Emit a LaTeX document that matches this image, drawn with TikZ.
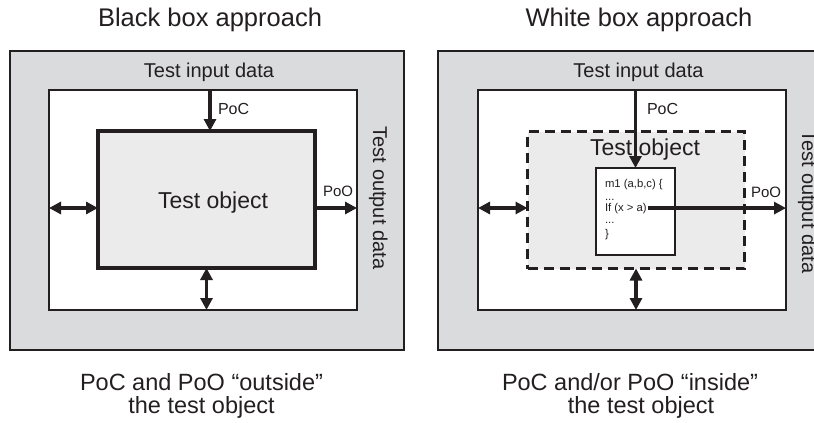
\documentclass[tikz,border=0pt]{standalone}
\usepackage{fontspec}
\setmainfont{Liberation Sans}
\usetikzlibrary{arrows.meta}
\definecolor{ink}{HTML}{231F20}
\definecolor{outergrey}{HTML}{DADBDC}
\definecolor{objgrey}{HTML}{EBEBEB}
\newcommand{\fsz}[1]{\fontsize{#1}{#1}\selectfont}
\tikzset{
  box/.style={rectangle, inner sep=0pt, outer sep=0pt, draw=ink},
  lbl/.style={inner sep=0pt, outer sep=0pt, text=ink},
  arr/.style={draw=ink, line width=3.2pt, -{Triangle[length=12pt,width=12pt]}},
  darr/.style={draw=ink, line width=3.2pt, {Triangle[length=12pt,width=12pt]}-{Triangle[length=12pt,width=12pt]}},
  codeline/.style={lbl, anchor=base west, font=\fsz{11.3}},
}
\begin{document}
\begin{tikzpicture}[x=1pt,y=-1pt]
\clip (0,0) rectangle (814,423);
\fill[white] (0,0) rectangle (814,423);

% ---------- Left panel: black box ----------
\node[lbl, anchor=base, font=\fsz{25.5}] (titleL) at (210,27) {Black box approach};
\node[box, fill=outergrey, line width=1.5pt, minimum width=394pt, minimum height=299pt] (outerL) at (207,200.5) {};
\node[box, fill=white, line width=1.2pt, minimum width=308pt, minimum height=220pt] (innerL) at (203,200) {};
\node[box, fill=objgrey, line width=4pt, minimum width=217pt, minimum height=137pt] (objL) at (206.5,199.5) {};
\node[lbl, anchor=base, font=\fsz{23}] (objtxtL) at (213,208) {Test object};
\node[lbl, anchor=base, font=\fsz{20}] (inL) at (209,77) {Test input data};
\node[lbl, anchor=base, font=\fsz{20}, rotate=-90] (outL) at (373,198) {Test output data};
\node[lbl, anchor=base west, font=\fsz{16}] (pocL) at (218,114) {PoC};
\node[lbl, anchor=base west, font=\fsz{15}] (pooL) at (323,196) {PoO};
\coordinate (pocLx) at (210,90);
\coordinate (aL) at (49,208);
\draw[arr] (pocLx) -- (pocLx |- objL.north);
\draw[arr] (aL -| objL.east) -- (aL -| innerL.east);
\draw[darr] (aL) -- (aL -| objL.west);
\draw[darr] (objL.south) -- (objL.south |- innerL.south);
\node[lbl, anchor=base, font=\fsz{23.5}] (capL1) at (201.5,390) {PoC and PoO “outside”};
\node[lbl, anchor=base, font=\fsz{23.5}] (capL2) at (201.5,413) {the test object};

% ---------- Right panel: white box ----------
\node[lbl, anchor=base, font=\fsz{25.5}] (titleR) at (639,27) {White box approach};
\node[box, fill=outergrey, line width=1.5pt, minimum width=395pt, minimum height=299pt] (outerR) at (635.5,200.5) {};
\node[box, fill=white, line width=1.2pt, minimum width=308pt, minimum height=220pt] (innerR) at (632,200) {};
\node[box, fill=objgrey, line width=3pt, dash pattern=on 10pt off 6pt, minimum width=217pt, minimum height=137pt] (dashR) at (636,200) {};
\node[lbl, anchor=base, font=\fsz{23}] (objtxtR) at (645,155) {Test object};
\node[box, fill=white, line width=1.2pt, minimum width=79pt, minimum height=87pt] (code) at (635.5,211.5) {};
\node[codeline] (l1) at (605,187) {m1 (a,b,c) \{};
\node[codeline] (l2) at (605,200) {...};
\node[codeline] (l3) at (605,211) {If (x > a)};
\node[codeline] (l4) at (605,223.5) {...};
\node[codeline] (l5) at (605,237.5) {\}};
\node[lbl, anchor=base, font=\fsz{20}] (inR) at (638.5,77) {Test input data};
\node[lbl, anchor=base, font=\fsz{20}, rotate=-90] (outR) at (802,202) {Test output data};
\node[lbl, anchor=base west, font=\fsz{16}] (pocR) at (647,114) {PoC};
\node[lbl, anchor=base west, font=\fsz{15}] (pooR) at (751,197) {PoO};
\coordinate (aR) at (478,208);
\draw[arr] (innerR.north -| code.north) -- (code.north);
\draw[arr] ([xshift=1pt]l3.east) -- (innerR.east |- l3.east);
\draw[darr] (aR) -- (aR -| dashR.west);
\draw[darr] (dashR.south) -- (dashR.south |- innerR.south);
\node[lbl, anchor=base, font=\fsz{23.5}] (capR1) at (630,390) {PoC and/or PoO “inside”};
\node[lbl, anchor=base, font=\fsz{23.5}] (capR2) at (641,413) {the test object};
\end{tikzpicture}
\end{document}
